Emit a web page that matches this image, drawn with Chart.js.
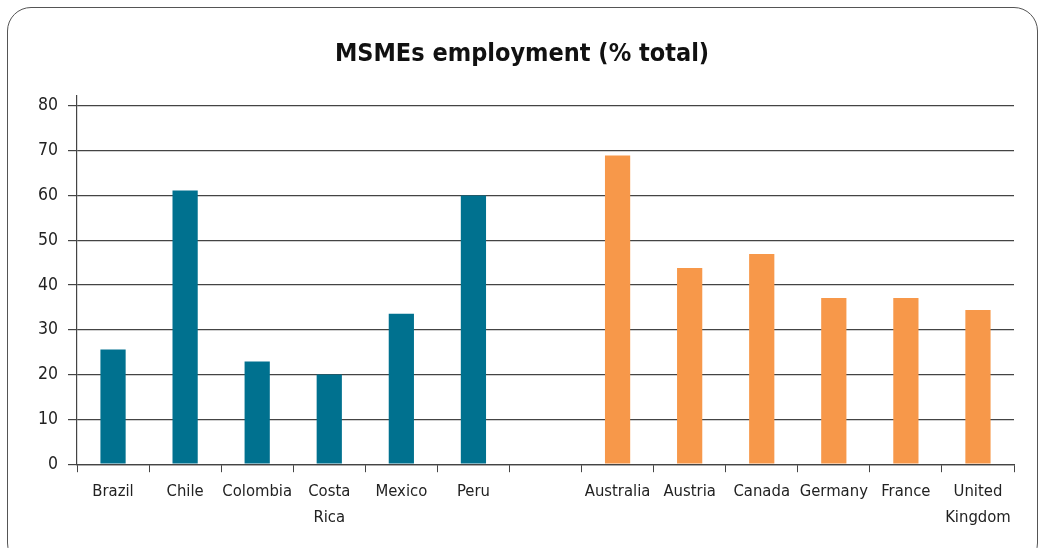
<!DOCTYPE html>
<html>
<head>
<meta charset="utf-8">
<script src="https://cdn.jsdelivr.net/npm/chart.js@4/dist/chart.umd.min.js"></script>
<style>
  body { margin: 0; background: #fff; }
  #wrap { position: relative; width: 1042px; height: 548px; }
  #frame { position: absolute; left: 7px; top: 7px; width: 1031px; height: 560px;
           border: 1.5px solid #555; border-radius: 24px; box-sizing: border-box; }
  canvas { position: absolute; left: 0; top: 0; }
</style>
</head>
<body>
<div id="wrap">
  <div id="frame"></div>
  <canvas id="chart" width="1042" height="548"></canvas>
</div>
<script>
// categories, blank entry is the gap between the two groups
var categories = ['Brazil', 'Chile', 'Colombia', ['Costa', 'Rica'], 'Mexico', 'Peru', '',
                  'Australia', 'Austria', 'Canada', 'Germany', 'France', ['United', 'Kingdom']];
var values = [25.6, 61.1, 22.9, 20, 33.6, 60, null, 68.9, 43.8, 46.9, 37.1, 37.1, 34.4];
var groups = ['latam', 'latam', 'latam', 'latam', 'latam', 'latam', '',
              'oecd', 'oecd', 'oecd', 'oecd', 'oecd', 'oecd'];
var yTicks = [0, 10, 20, 30, 40, 50, 60, 70, 80];

var groupColor = { latam: '#00718f', oecd: '#f7984a', '': '#ffffff' };
var font = "'DejaVu Sans Condensed', 'Liberation Sans Narrow', sans-serif";

var ctx = document.getElementById('chart').getContext('2d');
var chart = new Chart(ctx, {
    type: 'bar',
    data: {
        labels: categories,
        datasets: [{
            data: values,
            backgroundColor: groups.map(function (g) { return groupColor[g]; }),
            barPercentage: 0.35,
            categoryPercentage: 1
        }]
    },
    options: {
        responsive: false,
        animation: false,
        layout: { padding: { left: 30, right: 28, top: 20, bottom: 11 } },
        plugins: {
            legend: { display: false },
            tooltip: { enabled: false },
            title: {
                display: true,
                text: 'MSMEs employment (% total)',
                color: '#111',
                font: { family: font, size: 25, weight: 'bold' },
                padding: { top: 19, bottom: 27 }
            }
        },
        scales: {
            x: {
                grid: { display: true, drawOnChartArea: false, drawTicks: true,
                        tickLength: 8, color: '#444', offset: true },
                border: { display: true, color: '#444', width: 1.2 },
                ticks: { color: '#222', font: { family: font, size: 16.5, lineHeight: 1.6 },
                         padding: 6, maxRotation: 0, autoSkip: false }
            },
            y: {
                min: 0,
                max: 82.2,
                afterBuildTicks: function (scale) {
                    scale.ticks = yTicks.map(function (v) { return { value: v }; });
                },
                afterFit: function (scale) { scale.width = 47; },
                grid: { color: '#444', lineWidth: 1.2, tickLength: 9 },
                border: { display: true, color: '#444', width: 1.2 },
                ticks: { color: '#222', font: { family: font, size: 17.5 }, padding: 10 }
            }
        }
    }
});
</script>
</body>
</html>
